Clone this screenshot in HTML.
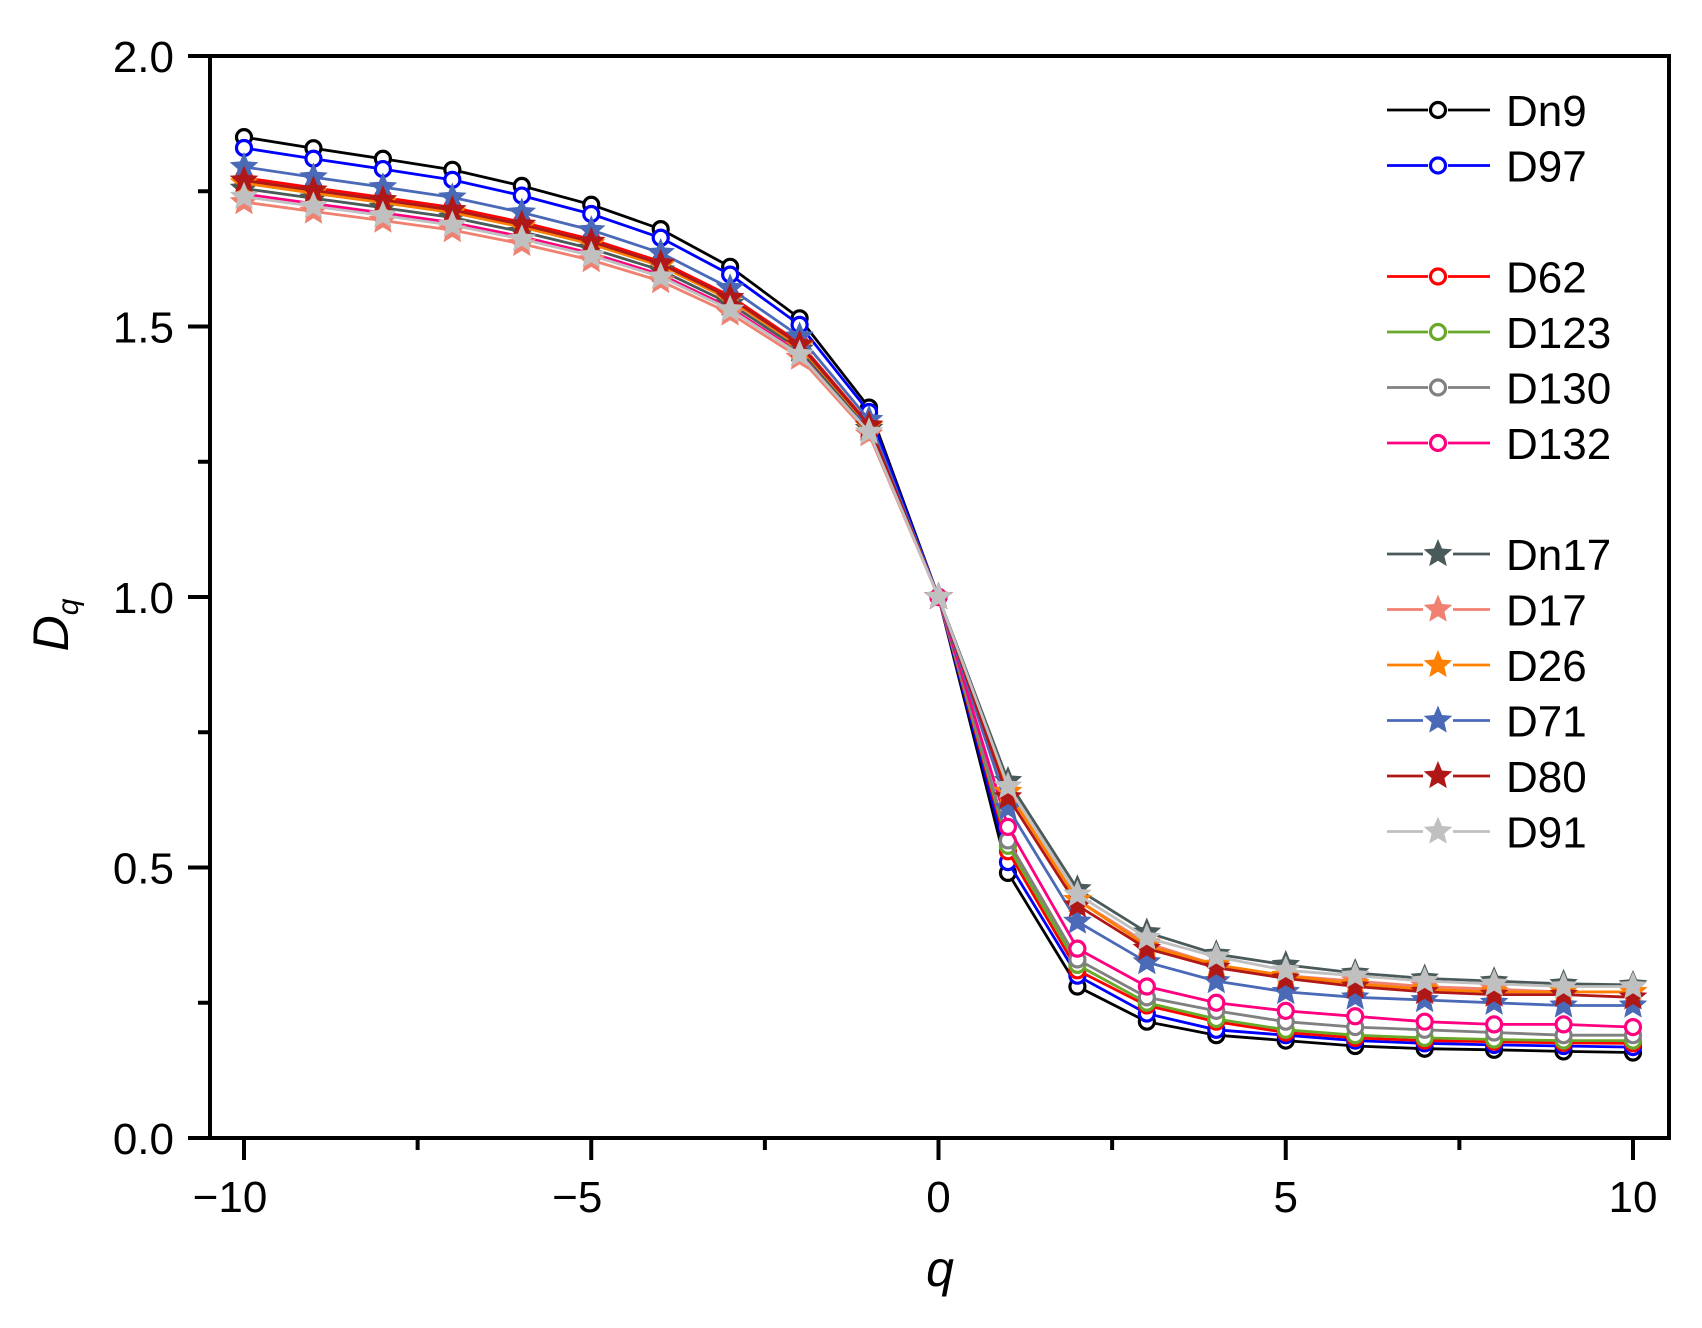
<!DOCTYPE html>
<html><head><meta charset="utf-8">
<style>html,body{margin:0;padding:0;background:#fff}svg{display:block}</style>
</head><body>
<svg id="s" width="1702" height="1328" xmlns="http://www.w3.org/2000/svg" font-family="Liberation Sans, Arial, sans-serif"></svg>
<script>
const s=document.getElementById('s');
const X=q=>938.5+69.45*q, Y=d=>1138-541*d;
let h='';
const shape=[1,.976,.953,.929,.894,.853,.8,.718,.606,.412];
const series=[
 ['Dn9','#000','c',1.85,[0.49,0.28,0.215,0.19,0.18,0.17,0.165,0.163,0.16,0.158]],
 ['D97','#0000ff','c',1.83,[0.51,0.30,0.23,0.20,0.19,0.18,0.175,0.172,0.17,0.168]],
 ['D62','#ff0000','c',1.775,[0.53,0.31,0.245,0.215,0.195,0.185,0.18,0.178,0.176,0.175]],
 ['D123','#6aa82a','c',1.765,[0.54,0.32,0.25,0.22,0.2,0.19,0.185,0.182,0.18,0.18]],
 ['D130','#808080','c',1.77,[0.55,0.33,0.26,0.235,0.215,0.205,0.2,0.195,0.19,0.19]],
 ['D132','#ff0080','c',1.745,[0.575,0.35,0.28,0.25,0.235,0.225,0.215,0.21,0.21,0.205]],
 ['Dn17','#4a5a5a','s',1.755,[0.66,0.46,0.38,0.34,0.32,0.305,0.295,0.29,0.285,0.283]],
 ['D17','#f08070','s',1.73,[0.64,0.44,0.36,0.32,0.30,0.29,0.28,0.275,0.27,0.27]],
 ['D26','#ff8000','s',1.765,[0.64,0.44,0.355,0.32,0.30,0.285,0.275,0.27,0.27,0.27]],
 ['D71','#4a6ab8','s',1.795,[0.61,0.40,0.325,0.29,0.27,0.26,0.255,0.25,0.245,0.245]],
 ['D80','#b01818','s',1.77,[0.63,0.43,0.35,0.315,0.295,0.28,0.27,0.265,0.265,0.26]],
 ['D91','#c0c0c0','s',1.74,[0.65,0.45,0.37,0.335,0.31,0.30,0.29,0.285,0.28,0.28]]
];
function star(x,y,r,c){let p=[];for(let i=0;i<10;i++){const a=-Math.PI/2+i*Math.PI/5,rr=i%2?r*0.45:r;p.push((x+rr*Math.cos(a)).toFixed(1)+','+(y+rr*Math.sin(a)).toFixed(1));}return `<polygon points="${p.join(' ')}" fill="${c}"/>`;}
function circ(x,y,c){return `<circle cx="${x}" cy="${y}" r="7.5" fill="#fff" stroke="${c}" stroke-width="3.2"/>`;}
const legY=[110,165.5,276.5,332,387.5,443,554,609.5,665,720.5,776,831.5];
series.forEach((sr,i)=>{
 const [n,c,m,L,R]=sr;const pts=[];
 for(let k=0;k<10;k++)pts.push([X(k-10),Y(1+(L-1)*shape[k])]);
 pts.push([X(0),Y(1)]);
 for(let k=0;k<10;k++)pts.push([X(k+1),Y(R[k])]);
 h+=`<polyline points="${pts.map(p=>p[0].toFixed(1)+','+p[1].toFixed(1)).join(' ')}" fill="none" stroke="${c}" stroke-width="2.8"/>`;
 pts.forEach(p=>{h+= m=='c'?circ(p[0],p[1],c):star(p[0],p[1],15,c);});
 const ly=legY[i];
 h+=`<line x1="1387" y1="${ly}" x2="1490" y2="${ly}" stroke="${c}" stroke-width="2.8"/>`;
 h+= m=='c'?`<circle cx="1438" cy="${ly}" r="10" fill="#fff"/>`+circ(1438,ly,c):`<rect x="1423" y="${ly-15}" width="30" height="30" fill="#fff"/>`+star(1438,ly,15,c);
 h+=`<text x="1506" y="${ly+16}" font-size="44">${n}</text>`;
});
// axes
h+=`<rect x="210" y="56" width="1459" height="1082" fill="none" stroke="#000" stroke-width="4"/>`;
for(let v=0;v<=2.001;v+=0.25){const y=Y(v);const maj=Math.abs(v*2-Math.round(v*2))<1e-6;
 h+=`<line x1="${maj?188:198}" y1="${y}" x2="210" y2="${y}" stroke="#000" stroke-width="4"/>`;
 if(maj)h+=`<text x="174" y="${y+16}" font-size="44" text-anchor="end">${v.toFixed(1)}</text>`;}
for(let q=-10;q<=10;q+=2.5){const x=X(q);const maj=q%5==0;
 h+=`<line x1="${x}" y1="1138" x2="${x}" y2="${maj?1160:1150}" stroke="#000" stroke-width="4"/>`;
 if(maj)h+=`<text x="${q<0?x-14:x}" y="1212" font-size="44" text-anchor="middle">${q<0?'−'+(-q):q}</text>`;}
h+=`<text x="940" y="1286" font-size="50" font-style="italic" text-anchor="middle">q</text>`;
h+=`<text transform="translate(68,625) rotate(-90)" font-size="50" font-style="italic" text-anchor="middle">D<tspan font-size="30" dy="10">q</tspan></text>`;
s.innerHTML=h;
</script>
</body></html>
